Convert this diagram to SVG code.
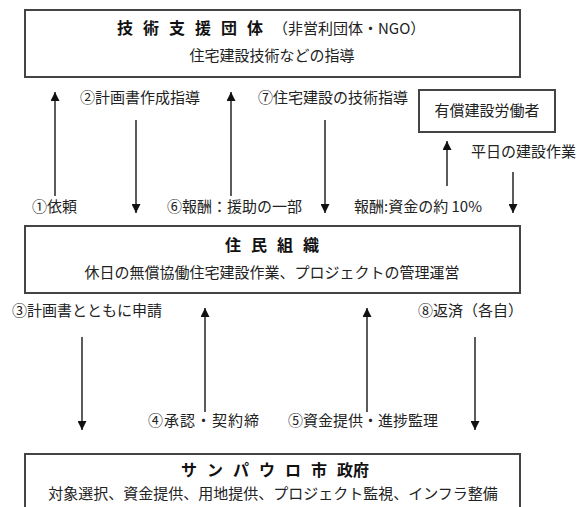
<svg xmlns="http://www.w3.org/2000/svg" width="579" height="507" viewBox="0 0 579 507">
<defs>
<marker id="ah" viewBox="0 0 10 10" refX="10" refY="5" markerWidth="10" markerHeight="9" markerUnits="userSpaceOnUse" orient="auto">
<path d="M0,0 L10,5 L0,10 z" fill="#111"/>
</marker>
<style>
text{font-family:"Noto Sans CJK JP","Noto Sans",sans-serif;fill:#222;font-size:15px}
.box{fill:#fff;stroke:#444;stroke-width:2}
.t{font-weight:bold;font-size:16px;fill:#111}
.c{text-anchor:middle}
.ar{stroke:#333;stroke-width:1.6;fill:none;marker-end:url(#ah)}
</style>
</defs>
<rect width="579" height="507" fill="#fff"/>
<g id="ngo">
<rect class="box" x="25" y="10" width="495" height="67"/>
<text x="117" y="34"><tspan class="t" letter-spacing="10">技術支援団体</tspan><tspan>（非営利団体・NGO）</tspan></text>
<text class="c" x="272" y="61">住宅建設技術などの指導</text>
</g>
<g id="workers">
<rect class="box" x="419" y="90" width="136" height="42"/>
<text class="c" x="487" y="116">有償建設労働者</text>
</g>
<g id="residents">
<rect class="box" x="25" y="226" width="495" height="67"/>
<text class="c t" x="277" y="251" letter-spacing="10">住民組織</text>
<text class="c" x="272" y="278">休日の無償協働住宅建設作業、プロジェクトの管理運営</text>
</g>
<g id="city">
<rect class="box" x="25" y="454" width="495" height="70"/>
<text class="t" x="181" y="476"><tspan letter-spacing="10">サンパウロ市</tspan>政府</text>
<text class="c" x="273" y="499" font-size="15.5">対象選択、資金提供、用地提供、プロジェクト監視、インフラ整備</text>
</g>
<g id="connectors">
<line class="ar" x1="55" y1="196" x2="55" y2="92"/>
<line class="ar" x1="136" y1="120" x2="136" y2="213"/>
<line class="ar" x1="231" y1="196" x2="231" y2="92"/>
<line class="ar" x1="325" y1="120" x2="325" y2="213"/>
<line class="ar" x1="447" y1="186" x2="447" y2="141"/>
<line class="ar" x1="513" y1="172" x2="513" y2="213"/>
<line class="ar" x1="82" y1="337" x2="82" y2="430"/>
<line class="ar" x1="205" y1="412" x2="205" y2="308"/>
<line class="ar" x1="367" y1="412" x2="367" y2="308"/>
<line class="ar" x1="475" y1="337" x2="475" y2="430"/>
</g>
<g id="labels">
<text x="80" y="103">②計画書作成指導</text>
<text x="258" y="103">⑦住宅建設の技術指導</text>
<text x="471" y="157">平日の建設作業</text>
<text x="32" y="212">①依頼</text>
<text x="167" y="212">⑥報酬：援助の一部</text>
<text x="354" y="212">報酬:資金の約 10%</text>
<text x="12" y="316">③計画書とともに申請</text>
<text x="418" y="316">⑧返済（各自）</text>
<text x="148" y="426" letter-spacing="1">④承認・契約締</text>
<text x="288" y="426" font-size="14.5">⑤資金提供・進捗監理</text>
</g>
</svg>
